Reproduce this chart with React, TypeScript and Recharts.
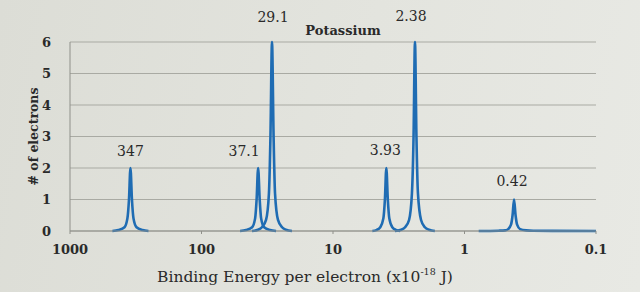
import { LineChart, Line, XAxis, YAxis, CartesianGrid, ReferenceDot } from 'recharts'

// peak labels and tops (binding energy x10^-18 J, electrons)
const peakLabels = ['347', '37.1', '29.1', '3.93', '2.38', '0.42']
const peakEnergies = [347, 37.1, 29.1, 3.93, 2.38, 0.42]
const peakCounts = [2, 2, 6, 2, 6, 1]
const labelOffsets = [12, 12, 20, 13, 21, 14]
const labelShifts = [0, -14, 1, -1, -4, -2]

const shape347E = [476, 428, 385, 366, 356, 347, 338, 329, 312, 281, 253]
const shape347N = [0, 0.03, 0.12, 0.4, 1, 2, 1, 0.4, 0.12, 0.03, 0]
const shape371E = [50.9, 45.8, 41.2, 39.1, 38.1, 37.1, 36.1, 35.2, 33.4, 30.1, 27.1]
const shape371N = [0, 0.03, 0.12, 0.4, 1, 2, 1, 0.4, 0.12, 0.03, 0]
const shape291E = [41.3, 37.2, 34.7, 32.3, 30.7, 29.9, 29.1, 28.3, 27.6, 26.2, 24.4, 22.8, 20.5]
const shape291N = [0, 0.04, 0.12, 0.35, 1.2, 3, 6, 3, 1.2, 0.35, 0.12, 0.04, 0]
const shape393E = [5.02, 4.68, 4.37, 4.14, 4.03, 3.93, 3.83, 3.73, 3.54, 3.3, 3.08]
const shape393N = [0, 0.03, 0.12, 0.4, 1, 2, 1, 0.4, 0.12, 0.03, 0]
const shape238E = [3.38, 3.04, 2.83, 2.64, 2.51, 2.44, 2.38, 2.32, 2.26, 2.14, 2.0, 1.86, 1.68]
const shape238N = [0, 0.04, 0.12, 0.35, 1.2, 3, 6, 3, 1.2, 0.35, 0.12, 0.04, 0]
const shape042E = [0.78, 0.55, 0.49, 0.466, 0.443, 0.431, 0.42, 0.409, 0.398, 0.378, 0.34, 0.3, 0.1]
const shape042N = [0, 0.01, 0.02, 0.06, 0.2, 0.5, 1, 0.5, 0.2, 0.06, 0.02, 0.01, 0]

const xTicks = [1000, 100, 10, 1, 0.1]
const yTicks = [0, 1, 2, 3, 4, 5, 6]

const shapes = [
  [shape347E, shape347N],
  [shape371E, shape371N],
  [shape291E, shape291N],
  [shape393E, shape393N],
  [shape238E, shape238N],
  [shape042E, shape042N],
]

const series = shapes.map(([es, ns]) => es.map((e, i) => ({ e, n: ns[i] })))

const serif = '"DejaVu Serif", "Liberation Serif", serif'
const ink = '#2a2a2a'
const blue = '#1f6cb3'

export default function App() {
  return (
    <div
      style={{
        position: 'absolute',
        left: 0,
        top: 0,
        width: 640,
        height: 292,
        background: 'linear-gradient(100deg, #dcddd6 0%, #e3e4de 55%, #e8e9e4 100%)',
        fontFamily: serif,
        overflow: 'hidden',
      }}
    >
      <LineChart width={640} height={292} margin={{ top: 42, right: 44, bottom: 0, left: 0 }}>
        <CartesianGrid vertical={false} stroke="#a9aaa3" strokeWidth={1} />
        <XAxis
          dataKey="e"
          type="number"
          scale="log"
          domain={[0.1, 1000]}
          allowDataOverflow
          reversed
          ticks={xTicks}
          tickFormatter={(v) => String(v)}
          height={61}
          axisLine={{ stroke: '#8f908a' }}
          tickLine={{ stroke: '#8f908a' }}
          tickSize={3}
          tickMargin={11}
          tick={{ fill: ink, fontSize: 13, fontWeight: 700, fontFamily: serif }}
        />
        <YAxis
          type="number"
          domain={[0, 6]}
          ticks={yTicks}
          width={70}
          axisLine={{ stroke: '#8f908a' }}
          tickLine={false}
          tickMargin={13}
          tick={{ fill: ink, fontSize: 13, fontWeight: 700, fontFamily: serif }}
          label={{
            value: '# of electrons',
            angle: -90,
            position: 'center',
            dx: -1,
            fill: ink,
            fontSize: 12.5,
            fontWeight: 700,
            fontFamily: serif,
          }}
        />
        {series.map((d, i) => (
          <Line
            key={peakLabels[i]}
            data={d}
            dataKey="n"
            type="monotone"
            stroke={blue}
            strokeWidth={2.6}
            dot={false}
            activeDot={false}
            isAnimationActive={false}
          />
        ))}
        {peakEnergies.map((e, i) => (
          <ReferenceDot
            key={'lab' + i}
            x={e}
            y={peakCounts[i]}
            r={0}
            fill="none"
            stroke="none"
            label={{
              value: peakLabels[i],
              position: 'top',
              offset: labelOffsets[i],
              dx: labelShifts[i],
              fill: ink,
              fontSize: 14,
              fontFamily: serif,
            }}
          />
        ))}
      </LineChart>
      <div
        style={{
          position: 'absolute',
          left: 343,
          top: 30,
          transform: 'translate(-50%, -50%)',
          fontSize: 13,
          fontWeight: 700,
          color: ink,
          whiteSpace: 'nowrap',
        }}
      >
        Potassium
      </div>
      <div
        style={{
          position: 'absolute',
          left: 305,
          top: 276,
          transform: 'translate(-50%, -50%)',
          fontSize: 15.5,
          color: ink,
          whiteSpace: 'nowrap',
        }}
      >
        Binding Energy per electron (x10<sup style={{ fontSize: 9.5 }}>-18</sup> J)
      </div>
    </div>
  )
}
